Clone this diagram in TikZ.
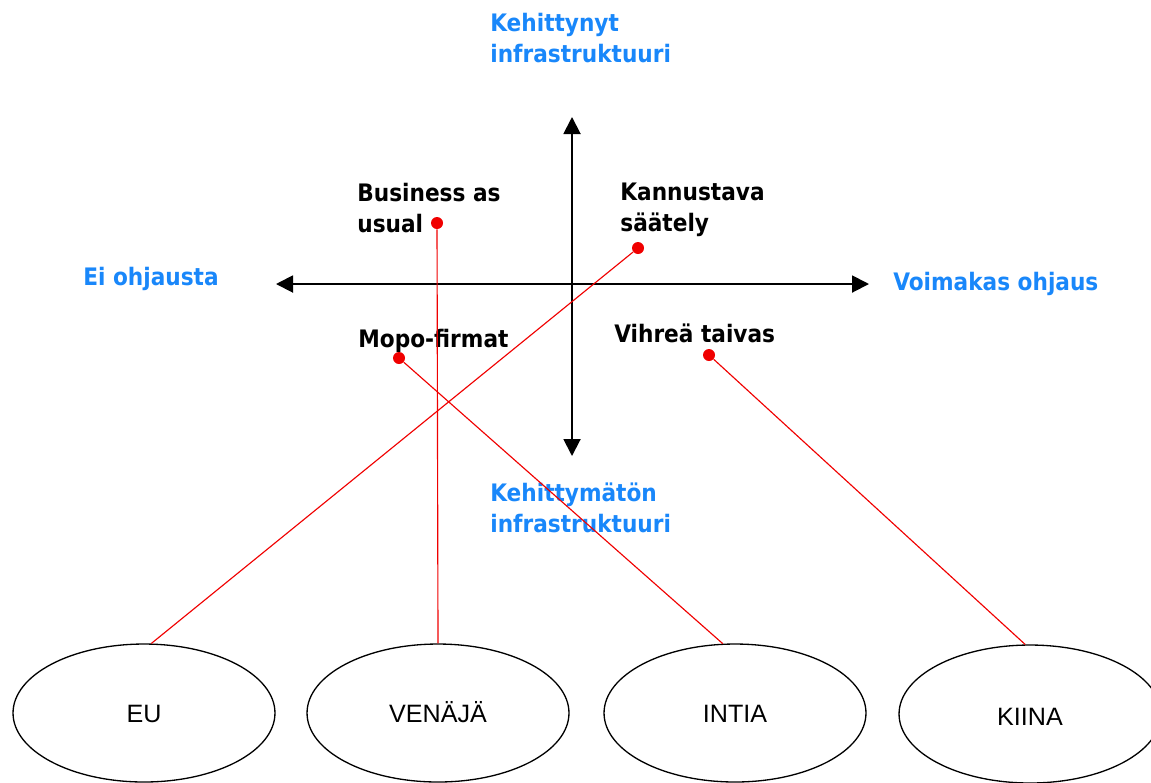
\documentclass[tikz,border=0pt]{standalone}
\usepackage{fontspec}
\setmainfont{Liberation Sans}
\newfontfamily\lblfont{DejaVu Sans Condensed}
\usetikzlibrary{arrows.meta,shapes.geometric}

\definecolor{axisblue}{RGB}{25,135,250}
\definecolor{dotred}{RGB}{240,0,0}

\tikzset{
  lbl/.style={anchor=north west, inner sep=0pt, align=left,
    font=\lblfont\bfseries\fontsize{13.7}{17.6}\selectfont},
  axlbl/.style={lbl, text=axisblue},
  axis/.style={line width=1.1pt,
    {Triangle[length=0.34cm,width=0.34cm]}-{Triangle[length=0.34cm,width=0.34cm]}},
  dot/.style={circle, fill=dotred, inner sep=0pt, minimum size=0.24cm},
  link/.style={draw=dotred, line width=0.65pt},
  land/.style={ellipse, draw, line width=0.75pt, inner sep=0pt,
    minimum width=5.24cm, minimum height=2.76cm,
    text height=0.36cm, text depth=0pt,
    font=\fontsize{14.3}{16}\selectfont}
}

\begin{document}
\begin{tikzpicture}[x=0.02cm, y=-0.02cm]
\useasboundingbox (0,0) rectangle (1151,782);

% axes
\coordinate (n) at (572,117);
\coordinate (s) at (572,456);
\coordinate (w) at (276,284);
\coordinate (e) at (869,284);
\draw[axis] (s) -- (n);
\draw[axis] (w) -- (e);

\node[axlbl] (kehit) at (490,13) {Kehittynyt\\infrastruktuuri};
\node[axlbl] (kehitm) at (490,483) {Kehittymätön\\infrastruktuuri};
\node[axlbl] (ei) at (83,267) {Ei ohjausta};
\node[axlbl] (voim) at (893,272) {Voimakas ohjaus};

% scenarios
\node[lbl] (bau) at (357,183) {Business as\\usual};
\node[lbl] (kann) at (620,183) {Kannustava\\säätely};
\node[lbl] (mopo) at (358,329) {Mopo-firmat};
\node[lbl] (vihr) at (614,324) {Vihreä taivas};

\node[dot] (dbau) at (437,223) {};
\node[dot] (dkann) at (638,248) {};
\node[dot] (dmopo) at (399,358) {};
\node[dot] (dvihr) at (709,355) {};

% countries
\node[land] (eu) at (144,713) {EU};
\node[land] (venaja) at (438,713) {VENÄJÄ};
\node[land] (intia) at (735,713) {INTIA};
\node[land] (kiina) at (1030,714) {\raisebox{-1.5pt}{KIINA}};

\draw[link] (dkann) -- (eu.84);
\draw[link] (dbau) -- (venaja.north);
\draw[link] (dmopo) -- (intia.100);
\draw[link] (dvihr) -- (kiina.94);

\end{tikzpicture}
\end{document}
